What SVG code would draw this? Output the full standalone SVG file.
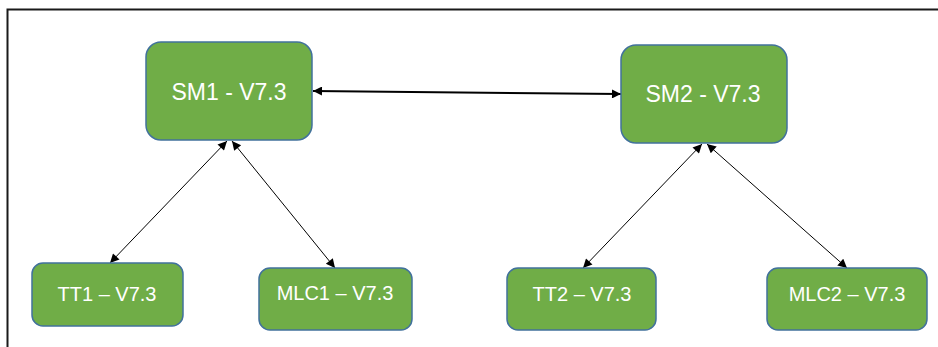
<svg xmlns="http://www.w3.org/2000/svg" width="938" height="347" viewBox="0 0 938 347">
<style>
.box{fill:#70AD47;stroke:#41719C;stroke-width:1.5}
.lbl{fill:#FFFFFF;font-family:"Liberation Sans",Arial,sans-serif;text-anchor:middle;dominant-baseline:central}
.big{font-size:23px}
.small{font-size:20px}
.thin{stroke:#000;stroke-width:1;fill:none}
.thick{stroke:#000;stroke-width:2;fill:none}
</style>
<defs>
<marker id="ah" viewBox="0 0 10 10" refX="10" refY="5" markerWidth="12" markerHeight="9" markerUnits="userSpaceOnUse" orient="auto-start-reverse">
<path d="M0,0 L10,5 L0,10 Z" fill="#000"/>
</marker>
<marker id="ahb" viewBox="0 0 10 10" refX="10" refY="5" markerWidth="12" markerHeight="9" markerUnits="userSpaceOnUse" orient="auto-start-reverse">
<path d="M0,0 L10,5 L0,10 Z" fill="#000"/>
</marker>
</defs>
<rect width="938" height="347" fill="#fff"/>
<g id="frame">
<path d="M7.5,347 V9.5 H938" fill="none" stroke="#1a1a1a" stroke-width="2"/>
</g>
<g id="connectors">
<line class="thick" x1="313" y1="91" x2="621" y2="94" marker-start="url(#ahb)" marker-end="url(#ahb)"/>
<line class="thin" x1="227" y1="141" x2="110" y2="263" marker-start="url(#ah)" marker-end="url(#ah)"/>
<line class="thin" x1="232" y1="141" x2="335" y2="268" marker-start="url(#ah)" marker-end="url(#ah)"/>
<line class="thin" x1="702" y1="144" x2="583" y2="268" marker-start="url(#ah)" marker-end="url(#ah)"/>
<line class="thin" x1="707" y1="144" x2="847" y2="268" marker-start="url(#ah)" marker-end="url(#ah)"/>
</g>
<g id="SM1">
<rect class="box" x="146" y="42" width="166" height="98" rx="15"/>
<text class="lbl big" x="229" y="92">SM1 - V7.3</text>
</g>
<g id="SM2">
<rect class="box" x="621" y="45" width="166" height="98" rx="15"/>
<text class="lbl big" x="703" y="94">SM2 - V7.3</text>
</g>
<g id="TT1">
<rect class="box" x="32" y="263" width="151" height="63" rx="11"/>
<text class="lbl small" x="107" y="294">TT1 – V7.3</text>
</g>
<g id="MLC1">
<rect class="box" x="259" y="268" width="153" height="62" rx="11"/>
<text class="lbl small" x="335" y="293">MLC1 – V7.3</text>
</g>
<g id="TT2">
<rect class="box" x="507" y="268" width="149" height="62" rx="11"/>
<text class="lbl small" x="582" y="294">TT2 – V7.3</text>
</g>
<g id="MLC2">
<rect class="box" x="767" y="268" width="160" height="62" rx="11"/>
<text class="lbl small" x="847" y="294">MLC2 – V7.3</text>
</g>
</svg>
